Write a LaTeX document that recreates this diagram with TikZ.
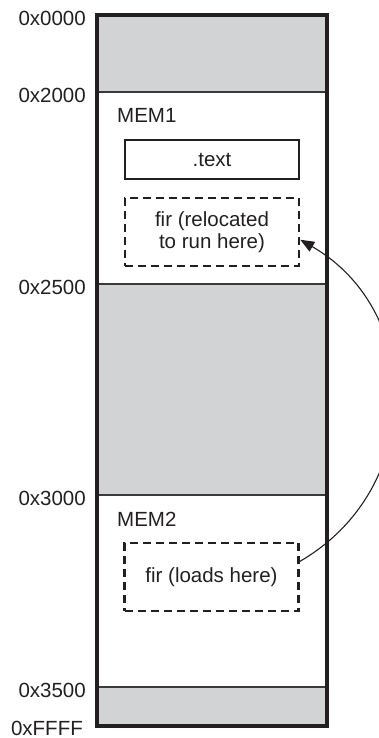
\documentclass[tikz,border=0pt]{standalone}
\usepackage{fontspec}
\setsansfont{Liberation Sans}
\usetikzlibrary{arrows.meta}
\newcommand{\mapleft}{97}
\newcommand{\mapright}{327}
\newcommand{\maptop}{15}
\newcommand{\mapbottom}{726}
\definecolor{reservedbg}{HTML}{D1D3D4}
\definecolor{framecolor}{HTML}{231F20}
\definecolor{sepcolor}{HTML}{3A3A3A}

\begin{document}
\begin{tikzpicture}[x=1pt, y=-1pt,
  addr/.style={anchor=east, inner sep=0pt, text=framecolor,
    font=\sffamily\fontsize{20.5}{23}\selectfont},
  region/.style={anchor=west, inner sep=0pt, text=framecolor,
    font=\sffamily\fontsize{20.5}{23}\selectfont},
  section/.style={draw=framecolor, line width=2.5pt, minimum width=174pt,
    minimum height=39pt, inner sep=2pt, align=center, text=framecolor,
    font=\sffamily\fontsize{20.5}{22}\selectfont},
  loadsect/.style={section, minimum height=68pt, dash pattern=on 8pt off 5pt},
  reloc/.style={framecolor, line width=1.1pt, -{Triangle[length=14pt, width=11pt]}}]
  \useasboundingbox (0,0) rectangle (379,738);

  % === RESERVED AREAS ===
  \fill[reservedbg] (\mapleft,\maptop) rectangle (\mapright,92);
  \fill[reservedbg] (\mapleft,284) rectangle (\mapright,495);
  \fill[reservedbg] (\mapleft,687) rectangle (\mapright,\mapbottom);

  \foreach \y in {92,284,495,687} {
    \draw[sepcolor, line width=1.4pt] (\mapleft,\y) -- (\mapright,\y);
  }

  % === MEMORY FRAME ===
  \draw[framecolor, line width=3.8pt] (\mapleft,\maptop) rectangle (\mapright,\mapbottom);

  % Address labels
  \foreach \y/\lbl/\nm in {18/0x0000/addrA, 95/0x2000/addrB, 287/0x2500/addrC,
      498/0x3000/addrD, 690/0x3500/addrE} {
    \node[addr] (\nm) at (86,\y) {\lbl};
  }
  \node[addr] (addrF) at (83,728) {0xFFFF};

  % === MEM1 ===
  \node[region] (mema) at (117,115) {MEM1};
  \node[section] (textsec) at (212,159.5) {.text};
  \node[loadsect] (firrun) at (212,232) {fir (relocated\\to run here)};

  % === MEM2 ===
  \node[region] (memb) at (117,519) {MEM2};
  \node[loadsect] (firload) at (211.5,577) {fir (loads here)};

  % Relocation arc
  \draw[reloc] (firload.10) to[out=30, in=-30, looseness=1.15] (firrun.-5);
\end{tikzpicture}
\end{document}
